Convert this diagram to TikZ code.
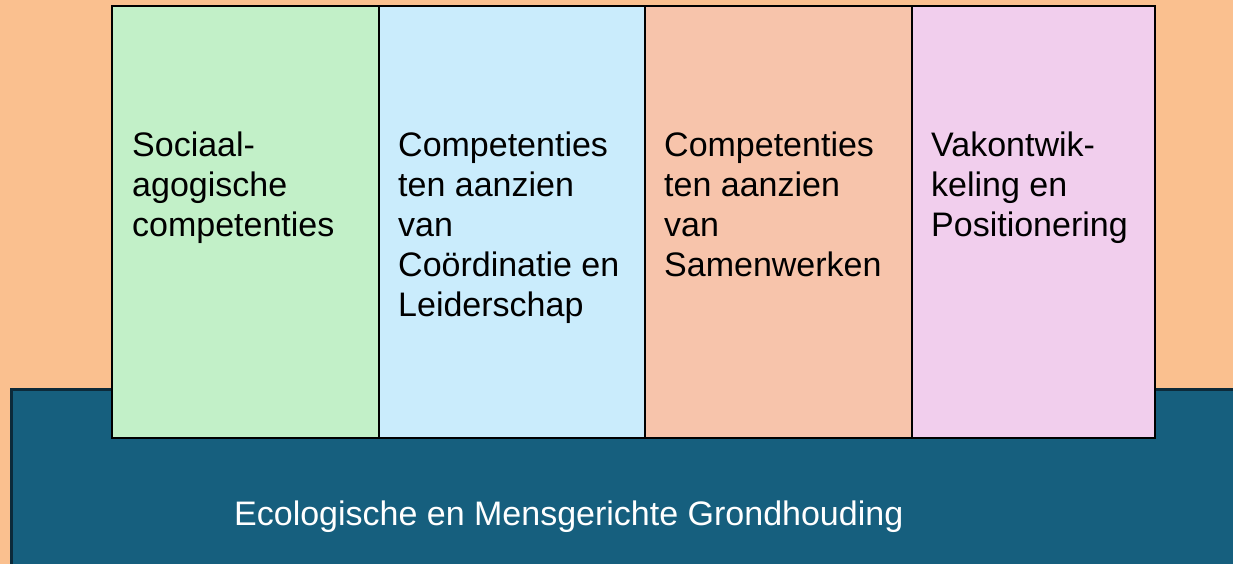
\documentclass[tikz,border=0pt]{standalone}
\usepackage{fontspec}
\setmainfont{Liberation Sans}
\usetikzlibrary{positioning}
\definecolor{bgorange}{RGB}{250,192,143}
\definecolor{basisblue}{RGB}{22,95,126}
\definecolor{basisedge}{RGB}{12,42,58}
\definecolor{colgreen}{RGB}{194,240,200}
\definecolor{colblue}{RGB}{202,236,252}
\definecolor{colsalmon}{RGB}{247,196,171}
\definecolor{colpink}{RGB}{241,206,237}
\tikzstyle{pillar} = [draw=black, line width=2.2pt, rectangle, outer sep=0pt, inner sep=0pt, minimum height=432pt]
\tikzstyle{pillartext} = [anchor=north west, inner sep=0pt, align=left, font=\fontsize{34}{40}\selectfont]

\begin{document}
\begin{tikzpicture}[x=1pt, y=-1pt]
\useasboundingbox (0,0) rectangle (1233,564);
\clip (0,0) rectangle (1233,564);
\fill [bgorange] (0,0) rectangle (1233,564);

% Base
\draw [basisedge, fill=basisblue, line width=3pt] (11.5,389.5) rectangle (1260,600);
\node [anchor=base west, inner sep=0pt, text=white, font=\fontsize{34}{40}\selectfont] (basis) at (234,525) {Ecologische en Mensgerichte Grondhouding};

% Pillars
\node [pillar, fill=colgreen, minimum width=267pt, anchor=north west] (social) at (112,6) {};
\node [pillar, fill=colblue, minimum width=266pt, right=0pt of social] (coord) {};
\node [pillar, fill=colsalmon, minimum width=267pt, right=0pt of coord] (samen) {};
\node [pillar, fill=colpink, minimum width=243pt, right=0pt of samen] (vak) {};

% Pillar texts
\node [pillartext] (socialtext) at ([xshift=20pt, yshift=-126pt]social.north west) {Sociaal-\\agogische\\competenties};
\node [pillartext] (coordtext) at ([xshift=19pt, yshift=-126pt]coord.north west) {Competenties\\ten aanzien\\van\\Coördinatie en\\Leiderschap};
\node [pillartext] (samentext) at ([xshift=19pt, yshift=-126pt]samen.north west) {Competenties\\ten aanzien\\van\\Samenwerken};
\node [pillartext] (vaktext) at ([xshift=19pt, yshift=-126pt]vak.north west) {Vakontwik-\\keling en\\Positionering};
\end{tikzpicture}
\end{document}
